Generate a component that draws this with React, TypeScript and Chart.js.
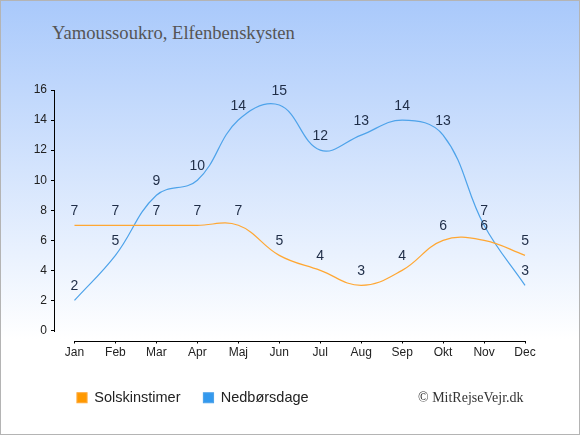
import React, { useEffect, useRef } from "react";
import { Chart, registerables } from "chart.js";

Chart.register(...registerables);

const months = ["Jan", "Feb", "Mar", "Apr", "Maj", "Jun", "Jul", "Aug", "Sep", "Okt", "Nov", "Dec"];
const sunHours = [7, 7, 7, 7, 7, 5, 4, 3, 4, 6, 6, 5];
const rainDays = [2, 5, 9, 10, 14, 15, 12, 13, 14, 13, 7, 3];
const yTicks = [0, 2, 4, 6, 8, 10, 12, 14, 16];

const SANS = "'Liberation Sans', Arial, sans-serif";
const SERIF = "'Liberation Serif', 'Times New Roman', serif";

// legend sits under the plot, starting at the y axis
const legendShift = {
  id: "legendShift",
  beforeDraw(chart: Chart) {
    const lg = (chart as any).legend;
    if (lg) {
      lg.left = chart.chartArea.left;
    }
  },
};

// d3-style axis lines (only as long as the data range) + value labels
const overlay = {
  id: "overlay",
  afterDatasetsDraw(chart: Chart) {
    const { ctx, chartArea, scales } = chart;
    const x = scales.x;
    const y = scales.y;
    ctx.save();
    ctx.strokeStyle = "#000";
    ctx.lineWidth = 1;
    ctx.beginPath();
    const ax = Math.round(chartArea.left) + 0.5;
    ctx.moveTo(ax, Math.round(y.getPixelForValue(yTicks[yTicks.length - 1])));
    ctx.lineTo(ax, Math.round(y.getPixelForValue(0)) + 1);
    const by = Math.round(chartArea.bottom) + 0.5;
    ctx.moveTo(Math.round(x.getPixelForValue(0)), by);
    ctx.lineTo(Math.round(x.getPixelForValue(months.length - 1)) + 1, by);
    ctx.stroke();

    ctx.font = `14px ${SANS}`;
    ctx.fillStyle = "#1f2d47";
    ctx.textAlign = "center";
    ctx.textBaseline = "middle";
    chart.data.datasets.forEach((ds, i) => {
      const meta = chart.getDatasetMeta(i);
      meta.data.forEach((pt, j) => {
        ctx.fillText(String(ds.data[j]), pt.x, pt.y - 14);
      });
    });
    ctx.restore();
  },
};

export default function App(): React.ReactElement {
  const canvasRef = useRef<HTMLCanvasElement | null>(null);

  useEffect(() => {
    document.body.style.margin = "0";
    if (!canvasRef.current) return;
    const ctx = canvasRef.current.getContext("2d");
    if (!ctx) return;

    Chart.defaults.font.family = SANS;

    const chart = new Chart(ctx, {
      type: "line",
      data: {
        labels: months,
        datasets: [
          {
            label: "Solskinstimer",
            data: sunHours,
            borderColor: "#ffa733",
            backgroundColor: "#ff9900",
            borderWidth: 1.2,
            pointRadius: 0,
            tension: 0.4,
          },
          {
            label: "Nedbørsdage",
            data: rainDays,
            borderColor: "#4ea3ea",
            backgroundColor: "#3399ee",
            borderWidth: 1.2,
            pointRadius: 0,
            tension: 0.4,
          },
        ],
      },
      options: {
        responsive: false,
        animation: false,
        layout: { padding: { left: 0, right: 34.5, top: 90, bottom: 20 } },
        plugins: {
          title: { display: false },
          tooltip: { enabled: false },
          legend: {
            display: true,
            position: "bottom",
            align: "start",
            labels: {
              boxWidth: 10,
              boxHeight: 10,
              padding: 23,
              color: "#222",
              font: { size: 14.5, family: SANS },
            },
          },
        },
        scales: {
          x: {
            offset: true,
            border: { display: false },
            grid: { display: true, drawOnChartArea: false, drawTicks: true, tickLength: 3, color: "#000" },
            ticks: { color: "#222", padding: 2, font: { size: 12 }, maxRotation: 0, autoSkip: false },
            afterFit: (s) => {
              s.height = 27;
            },
          },
          y: {
            min: -0.664,
            max: 16,
            border: { display: false },
            grid: { display: true, drawOnChartArea: false, drawTicks: true, tickLength: 3, color: "#000" },
            ticks: { color: "#222", padding: 4, font: { size: 12 } },
            afterBuildTicks: (s) => {
              s.ticks = yTicks.map((v) => ({ value: v }));
            },
            afterFit: (s) => {
              s.width = 54;
            },
          },
        },
      },
      plugins: [legendShift, overlay],
    });

    return () => {
      chart.destroy();
    };
  }, []);

  return (
    <div
      style={{
        position: "fixed",
        left: 0,
        top: 0,
        width: 580,
        height: 435,
        background: "linear-gradient(to bottom, #a9c9fb 0%, #ffffff 78%)",
      }}
    >
      <div
        style={{
          position: "absolute",
          left: 52,
          top: 22,
          fontFamily: SERIF,
          fontSize: 18.6,
          color: "#555",
          whiteSpace: "nowrap",
        }}
      >
        Yamoussoukro, Elfenbenskysten
      </div>
      <canvas ref={canvasRef} width={580} height={435} style={{ position: "absolute", left: 0, top: 0 }} />
      <div
        style={{
          position: "absolute",
          left: 418,
          top: 390,
          fontFamily: SERIF,
          fontSize: 14,
          color: "#333",
          whiteSpace: "nowrap",
        }}
      >
        © MitRejseVejr.dk
      </div>
      <div
        style={{
          position: "absolute",
          inset: 0,
          border: "1px solid #b4b4b4",
          pointerEvents: "none",
        }}
      />
    </div>
  );
}
